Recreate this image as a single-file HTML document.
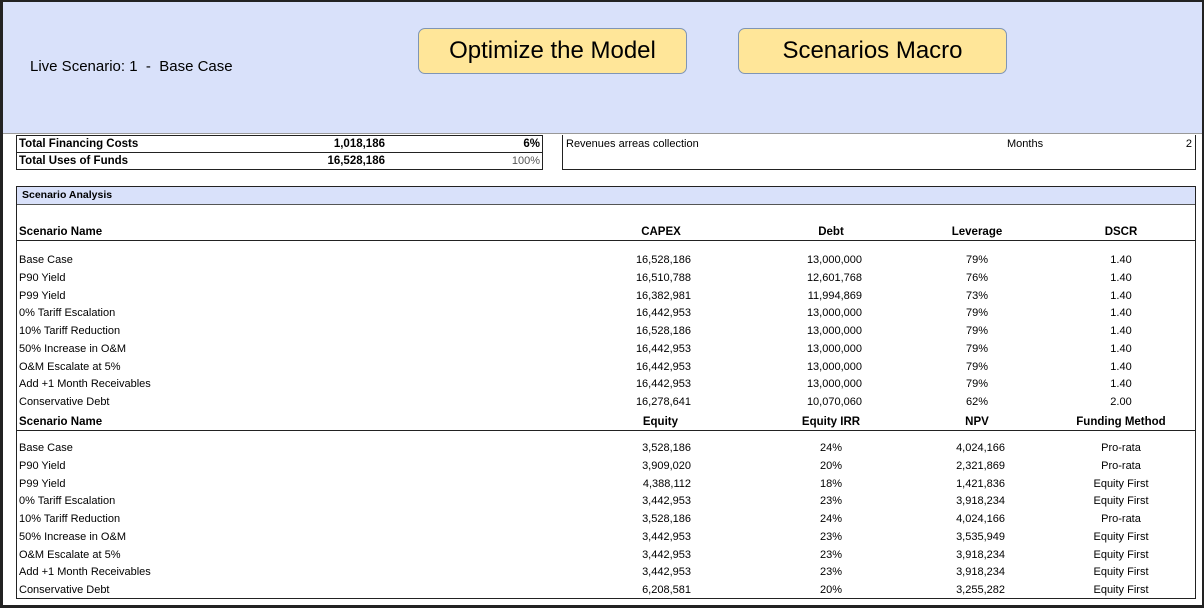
<!DOCTYPE html>
<html><head><meta charset="utf-8">
<style>
*{margin:0;padding:0;box-sizing:border-box}
body{width:1204px;height:608px;position:relative;background:#fff;font-family:"Liberation Sans",Arial,sans-serif;color:#000;overflow:hidden}
.abs{position:absolute;white-space:nowrap}
#frame{position:absolute;left:0;top:0;width:1204px;height:608px;border:2px solid #222;border-left-width:3px;border-bottom-width:3px}
#band{position:absolute;left:3px;top:2px;width:1199px;height:132px;background:#d9e1fa;border-bottom:1px solid #999}
.btn{position:absolute;top:28px;height:46px;width:269px;background:#ffe699;border:1px solid #7f95b5;border-radius:7px;font-size:24px;text-align:center;line-height:44px}
.t{font-size:11px;line-height:14px}
.b{font-weight:bold}
.r{text-align:right}
.c{text-align:center}
</style></head><body>
<div id="frame"></div>
<div id="band"></div>
<div class="abs" style="left:30px;top:58px;font-size:15px">Live Scenario: 1&nbsp; - &nbsp;Base Case</div>
<div class="btn" style="left:418px">Optimize the Model</div>
<div class="btn" style="left:738px">Scenarios Macro</div>

<div class="abs" style="left:16px;top:135px;width:527px;height:35px;border:1.5px solid #222">
 <div style="position:absolute;left:0;top:16px;width:100%;border-top:1px solid #222"></div>
</div>
<div class="abs t b" style="left:19px;top:137px;font-size:11.5px">Total Financing Costs</div>
<div class="abs t b r" style="left:285px;top:137px;width:100px;font-size:11.5px">1,018,186</div>
<div class="abs t b r" style="left:480px;top:137px;width:60px;font-size:11.5px">6%</div>
<div class="abs t b" style="left:19px;top:154px;font-size:11.5px">Total Uses of Funds</div>
<div class="abs t b r" style="left:285px;top:154px;width:100px;font-size:11.5px">16,528,186</div>
<div class="abs t r" style="left:480px;top:154px;width:60px;color:#555">100%</div>

<div class="abs" style="left:562px;top:135px;width:634px;height:35px;border:1.5px solid #222;border-top:none"></div>
<div class="abs t" style="left:566px;top:137px">Revenues arreas collection</div>
<div class="abs t" style="left:1007px;top:137px">Months</div>
<div class="abs t r" style="left:1150px;top:137px;width:42px">2</div>

<div class="abs" style="left:16px;top:186px;width:1180px;height:413px;border:1.5px solid #222">
 <div style="position:absolute;left:0;top:0;width:100%;height:18px;background:#d9e1fa;border-bottom:1px solid #555"></div>
</div>
<div class="abs t b" style="left:22px;top:188px;font-size:10.5px">Scenario Analysis</div>
<div id="rows"></div>
<script>
const names=["Base Case","P90 Yield","P99 Yield","0% Tariff Escalation","10% Tariff Reduction","50% Increase in O&M","O&M Escalate at 5%","Add +1 Month Receivables","Conservative Debt"];
const capex=["16,528,186","16,510,788","16,382,981","16,442,953","16,528,186","16,442,953","16,442,953","16,442,953","16,278,641"];
const debt=["13,000,000","12,601,768","11,994,869","13,000,000","13,000,000","13,000,000","13,000,000","13,000,000","10,070,060"];
const leverage=["79%","76%","73%","79%","79%","79%","79%","79%","62%"];
const dscr=["1.40","1.40","1.40","1.40","1.40","1.40","1.40","1.40","2.00"];
const equity=["3,528,186","3,909,020","4,388,112","3,442,953","3,528,186","3,442,953","3,442,953","3,442,953","6,208,581"];
const irr=["24%","20%","18%","23%","24%","23%","23%","23%","20%"];
const npv=["4,024,166","2,321,869","1,421,836","3,918,234","4,024,166","3,535,949","3,918,234","3,918,234","3,255,282"];
const funding=["Pro-rata","Pro-rata","Equity First","Equity First","Pro-rata","Equity First","Equity First","Equity First","Equity First"];
const root=document.getElementById('rows');
function txt(s,x,y,align,bold,name,w){
 const d=document.createElement('div');
 d.className='abs t'+(bold?' b':'');
 d.textContent=s;
 d.style.top=(y-7)+'px';
 if(bold)d.style.fontSize='11.5px';
 if(align==='l'){d.style.left=x+'px';}
 else if(align==='r'){d.style.left=(x-120)+'px';d.style.width='120px';d.style.textAlign='right';}
 else {d.style.left=(x-80)+'px';d.style.width='160px';d.style.textAlign='center';}
 
 
 root.appendChild(d);
}
function line(y,name){
 const d=document.createElement('div');
 d.className='abs';
 d.style.cssText+='left:17px;width:1178px;top:'+y+'px;border-top:1.5px solid #222';
 
 
 root.appendChild(d);
}
function block(y0,hy,cols,sfx){
 txt("Scenario Name",19,hy,'l',true,'scenario-name-header-'+sfx);
 cols.forEach(c=>txt(c.h,c.hx,hy,c.ha,true,c.n+'-header'));
 line(hy+8,'header-rule-'+sfx);
 names.forEach((n,i)=>{
  const y=y0+i*17.75;
  txt(n,19,y,'l',false,'scenario-name-'+sfx);
  cols.forEach(c=>txt(c.v[i],c.x,y,c.a,false,c.n+'-value'));
 });
}
block(260,232,[
 {h:"CAPEX",hx:661,ha:'c',v:capex,x:691,a:'r',n:'capex'},
 {h:"Debt",hx:831,ha:'c',v:debt,x:862,a:'r',n:'debt'},
 {h:"Leverage",hx:977,ha:'c',v:leverage,x:977,a:'c',n:'leverage'},
 {h:"DSCR",hx:1121,ha:'c',v:dscr,x:1121,a:'c',n:'dscr'}],'a');
block(448,422,[
 {h:"Equity",hx:678,ha:'r',v:equity,x:691,a:'r',n:'equity'},
 {h:"Equity IRR",hx:831,ha:'c',v:irr,x:831,a:'c',n:'equity-irr'},
 {h:"NPV",hx:977,ha:'c',v:npv,x:1005,a:'r',n:'npv'},
 {h:"Funding Method",hx:1121,ha:'c',v:funding,x:1121,a:'c',n:'funding-method'}],'b');
</script>
</body></html>
